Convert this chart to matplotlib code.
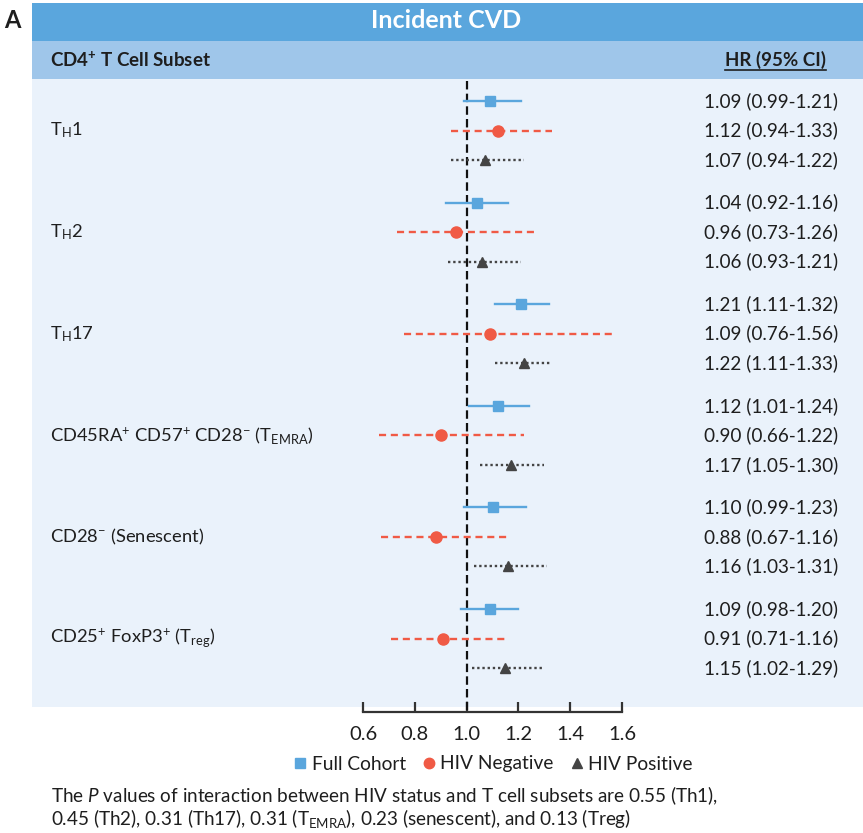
import matplotlib
matplotlib.use("Agg")
import matplotlib.pyplot as plt
from matplotlib.patches import Rectangle
from matplotlib.lines import Line2D
import matplotlib.transforms as mtransforms

plt.rcParams['font.family'] = ['Lato', 'DejaVu Sans']
plt.rcParams['mathtext.fontset'] = 'custom'
plt.rcParams['mathtext.rm'] = 'Lato'
plt.rcParams['mathtext.it'] = 'Lato:italic'

# ---------------- data ----------------
subsets = [r"T$_\mathregular{H}$1",
           r"T$_\mathregular{H}$2",
           r"T$_\mathregular{H}$17",
           r"CD45RA$^\mathregular{+}$ CD57$^\mathregular{+}$ CD28$^\mathregular{-}$ (T$_\mathregular{EMRA}$)",
           r"CD28$^\mathregular{-}$ (Senescent)",
           r"CD25$^\mathregular{+}$ FoxP3$^\mathregular{+}$ (T$_\mathregular{reg}$)"]
series = ["Full Cohort", "HIV Negative", "HIV Positive"]

full_hr = [1.09, 1.04, 1.21, 1.12, 1.10, 1.09]
full_lo = [0.99, 0.92, 1.11, 1.01, 0.99, 0.98]
full_hi = [1.21, 1.16, 1.32, 1.24, 1.23, 1.20]

neg_hr = [1.12, 0.96, 1.09, 0.90, 0.88, 0.91]
neg_lo = [0.94, 0.73, 0.76, 0.66, 0.67, 0.71]
neg_hi = [1.33, 1.26, 1.56, 1.22, 1.16, 1.16]

pos_hr = [1.07, 1.06, 1.22, 1.17, 1.16, 1.15]
pos_lo = [0.94, 0.93, 1.11, 1.05, 1.03, 1.02]
pos_hi = [1.22, 1.21, 1.33, 1.30, 1.31, 1.29]

xticks = [0.6, 0.8, 1.0, 1.2, 1.4, 1.6]

caption1 = r"The $\mathit{P}$ values of interaction between HIV status and T cell subsets are 0.55 (Th1),"
caption2 = r"0.45 (Th2), 0.31 (Th17), 0.31 (T$_\mathregular{EMRA}$), 0.23 (senescent), and 0.13 (Treg)"

# ---------------- figure ----------------
W, H = 863, 833
fig = plt.figure(figsize=(W / 100, H / 100), dpi=100)
fig.patch.set_facecolor('white')
renderer = fig.canvas.get_renderer()

def fx(px):
    return px / W

def fy(py):
    return 1 - py / H

C_TITLE = '#5aa6dd'
C_HEAD = '#9fc6ea'
C_PANEL = '#eaf2fb'
C_BLUE = '#5aa6dd'
C_RED = '#f05a45'
C_GRAY = '#444444'
C_TXT = '#1e1e1e'

# background bars
fig.add_artist(Rectangle((fx(32), fy(41)), fx(863) - fx(32), fy(3) - fy(41),
                         transform=fig.transFigure, color=C_TITLE, zorder=-2, lw=0))
fig.add_artist(Rectangle((fx(32), fy(79)), fx(863) - fx(32), fy(41) - fy(79),
                         transform=fig.transFigure, color=C_HEAD, zorder=-2, lw=0))
fig.add_artist(Rectangle((fx(32), fy(707)), fx(863) - fx(32), fy(79) - fy(707),
                         transform=fig.transFigure, color=C_PANEL, zorder=-2, lw=0))

fig.text(fx(4), fy(21), "A", fontsize=17, fontweight='bold', va='center', ha='left', color=C_TXT)
fig.text(fx(446), fy(21), "Incident CVD", fontsize=18, fontweight='bold', va='center',
         ha='center', color='white')
fig.text(fx(50), fy(60), r"CD4$^\mathregular{+}$ T Cell Subset", fontsize=13.5, fontweight='bold',
         va='center', ha='left', color=C_TXT)
hr_t = fig.text(fx(826), fy(60), "HR (95% CI)", fontsize=13.5, fontweight='bold',
                va='center', ha='right', color=C_TXT)
bb = hr_t.get_window_extent(renderer)
fig.add_artist(Line2D([bb.x0 / W, bb.x1 / W], [fy(70), fy(70)], transform=fig.transFigure,
                      color=C_TXT, lw=1.2))

# axes
ax = fig.add_axes([fx(363), fy(712), fx(622) - fx(363), fy(79) - fy(712)])
ax.set_xlim(0.6, 1.6)
ax.set_ylim(712, 79)
ax.patch.set_visible(False)
for s in ['top', 'left', 'right']:
    ax.spines[s].set_visible(False)
ax.spines['bottom'].set_linewidth(1.6)
ax.spines['bottom'].set_color('#333333')
ax.set_yticks([])
ax.set_xticks(xticks)
ax.set_xticklabels([f"{t:.1f}" for t in xticks])
ax.tick_params(axis='x', direction='in', length=7, width=1.6, color='#333333',
               labelsize=14.5, pad=10, labelcolor=C_TXT)

# reference line
ax.plot([1.0, 1.0], [81, 712], color='#111111', lw=1.6, dashes=(3.8, 1.9), zorder=3,
        clip_on=False)

def row_y(g, k):
    return 101 + g * 101.6 + k * 29.5

styles = [
    dict(color=C_BLUE, ls='-', marker='s', ms=7.3, hr=full_hr, lo=full_lo, hi=full_hi),
    dict(color=C_RED, ls=(0, (3, 2)), marker='o', ms=8, hr=neg_hr, lo=neg_lo, hi=neg_hi),
    dict(color=C_GRAY, ls=(0, (1, 1.2)), marker='^', ms=7.3, hr=pos_hr, lo=pos_lo, hi=pos_hi),
]

blend = mtransforms.blended_transform_factory(fig.transFigure, ax.transData)

for g in range(len(subsets)):
    ax.text(fx(50), row_y(g, 1), subsets[g], transform=blend, fontsize=13.2,
            va='center', ha='left', color=C_TXT)
    for k, st in enumerate(styles):
        y = row_y(g, k)
        ax.plot([st['lo'][g], st['hi'][g]], [y, y], color=st['color'], ls=st['ls'],
                lw=1.7, zorder=4)
        ax.plot([st['hr'][g]], [y], marker=st['marker'], color=st['color'],
                ms=st['ms'], ls='none', zorder=5)
        ax.text(fx(704), y, f"{st['hr'][g]:.2f} ({st['lo'][g]:.2f}-{st['hi'][g]:.2f})",
                transform=blend, fontsize=13.6, va='center', ha='left', color=C_TXT)

# legend
handles = [Line2D([], [], marker=m, color=c, ls='none', ms=ms)
           for m, c, ms in [('s', C_BLUE, 7), ('o', C_RED, 7.5), ('^', C_GRAY, 7.5)]]
fig.legend(handles, series, loc='center', bbox_to_anchor=(fx(492), fy(764)), ncol=3,
           frameon=False, fontsize=13.8, handletextpad=0.15, columnspacing=0.75,
           handlelength=0.9, labelcolor=C_TXT)

# caption, font size fitted to the reference line width
fs = 13.0
c1 = fig.text(fx(51), fy(796), caption1, fontsize=fs, va='center', ha='left', color=C_TXT)
w = c1.get_window_extent(renderer).width
fs = fs * (718 - 51) / w
c1.set_fontsize(fs)
fig.text(fx(51), fy(818), caption2, fontsize=fs, va='center', ha='left', color=C_TXT)

fig.savefig("out.png", dpi=100)
